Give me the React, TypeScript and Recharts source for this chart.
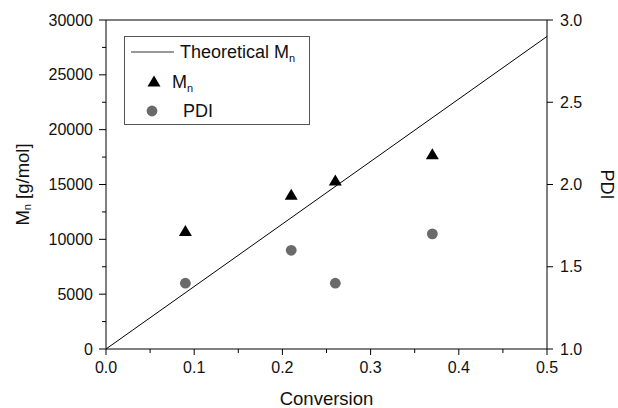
import React from "react";
import {
  ComposedChart,
  Line,
  Scatter,
  XAxis,
  YAxis,
  ReferenceLine,
} from "recharts";

// measured points
const conversion = [0.09, 0.21, 0.26, 0.37];
const mnValues = [10700, 14000, 15300, 17700];
const pdiValues = [1.4, 1.6, 1.4, 1.7];

// theoretical Mn line
const theoryConversion = [0, 0.5];
const theoryMn = [0, 28500];

const xTicks = [0, 0.05, 0.1, 0.15, 0.2, 0.25, 0.3, 0.35, 0.4, 0.45, 0.5];
const mnTicks = [
  0, 2500, 5000, 7500, 10000, 12500, 15000, 17500, 20000, 22500, 25000,
  27500, 30000,
];
const pdiTicks = [1.0, 1.5, 2.0, 2.5, 3.0];

const mnData = conversion.map((x, i) => ({ x, mn: mnValues[i] }));
const pdiData = conversion.map((x, i) => ({ x, pdi: pdiValues[i] }));
const theoryData = theoryConversion.map((x, i) => ({ x, theory: theoryMn[i] }));

const FONT = '"Liberation Sans", Arial, sans-serif';
const INK = "#000";
const GREY_DOT = "#6a6a6a";
const TICK_SIZE = 7;
const TICK_MARGIN = 6;

function Triangle({ cx, cy }: any) {
  if (cx == null || cy == null) return null;
  const h = 11;
  const w = 13;
  return (
    <polygon
      points={`${cx},${cy - h * 0.6} ${cx + w / 2},${cy + h * 0.4} ${cx - w / 2},${cy + h * 0.4}`}
      fill={INK}
    />
  );
}

function Dot({ cx, cy }: any) {
  if (cx == null || cy == null) return null;
  return <circle cx={cx} cy={cy} r={5.4} fill={GREY_DOT} />;
}

function LeftTick({ x, y, payload }: any) {
  const major = payload.value % 5000 === 0;
  const ax = x + TICK_SIZE + TICK_MARGIN;
  return (
    <g>
      <line x1={ax - (major ? 7 : 4)} x2={ax} y1={y} y2={y} stroke={INK} />
      {major && (
        <text x={x} y={y} dy={5.5} textAnchor="end" fontSize={16} fontFamily={FONT} fill="#111">
          {payload.value}
        </text>
      )}
    </g>
  );
}

function RightTick({ x, y, payload }: any) {
  const ax = x - TICK_SIZE - TICK_MARGIN;
  return (
    <g>
      <line x1={ax} x2={ax + 6} y1={y} y2={y} stroke={INK} />
      <text x={x} y={y} dy={5.5} textAnchor="start" fontSize={16} fontFamily={FONT} fill="#111">
        {payload.value.toFixed(1)}
      </text>
    </g>
  );
}

function BottomTick({ x, y, payload }: any) {
  const major = Math.round(payload.value * 100) % 10 === 0;
  const ay = y - TICK_SIZE - TICK_MARGIN;
  return (
    <g>
      <line x1={x} x2={x} y1={ay} y2={ay + (major ? 6 : 4)} stroke={INK} />
      {major && (
        <text x={x} y={y} dy="0.71em" textAnchor="middle" fontSize={16} fontFamily={FONT} fill="#111">
          {payload.value.toFixed(1)}
        </text>
      )}
    </g>
  );
}

function LeftLabel({ viewBox }: any) {
  const cx = viewBox.x + 22;
  const cy = viewBox.y + viewBox.height / 2;
  return (
    <text
      x={cx}
      y={cy}
      transform={`rotate(-90 ${cx} ${cy})`}
      textAnchor="middle"
      dominantBaseline="central"
      fontSize={18.5}
      fontFamily={FONT}
      fill="#111"
    >
      M<tspan fontSize={11} dy={5}>n</tspan>
      <tspan dy={-5}> [g/mol]</tspan>
    </text>
  );
}

function RightLabel({ viewBox }: any) {
  const cx = viewBox.x + 60;
  const cy = viewBox.y + viewBox.height / 2;
  return (
    <text
      x={cx}
      y={cy}
      transform={`rotate(90 ${cx} ${cy})`}
      textAnchor="middle"
      dominantBaseline="central"
      fontSize={18}
      fontFamily={FONT}
      fill="#111"
    >
      PDI
    </text>
  );
}

function BottomLabel({ viewBox }: any) {
  return (
    <text
      x={viewBox.x + viewBox.width / 2}
      y={viewBox.y + 49}
      textAnchor="middle"
      dominantBaseline="central"
      fontSize={18.5}
      fontFamily={FONT}
      fill="#111"
    >
      Conversion
    </text>
  );
}

function LegendBox() {
  return (
    <svg width={186} height={89} style={{ display: "block" }}>
      <rect x={0.5} y={0.5} width={185} height={88} fill="#fff" stroke="#555" />
      <line x1={7} x2={50} y1={16} y2={16} stroke="#333" />
      <text x={56} y={16} dominantBaseline="central" fontSize={18} fontFamily={FONT} fill="#111">
        Theoretical M<tspan fontSize={11} dy={6}>n</tspan>
      </text>
      <Triangle cx={30} cy={46} />
      <text x={48} y={46} dominantBaseline="central" fontSize={18} fontFamily={FONT} fill="#111">
        M<tspan fontSize={11} dy={6}>n</tspan>
      </text>
      <Dot cx={28} cy={75} />
      <text x={59} y={75} dominantBaseline="central" fontSize={18} fontFamily={FONT} fill="#111">
        PDI
      </text>
    </svg>
  );
}

export default function App() {
  return (
    <div style={{ position: "absolute", left: 0, top: 0, width: 618, height: 408, background: "#fff" }}>
      <ComposedChart
        width={618}
        height={408}
        margin={{ top: 20, right: 0, bottom: 0, left: 0 }}
      >
        <XAxis
          dataKey="x"
          type="number"
          domain={[0, 0.5]}
          ticks={xTicks}
          interval={0}
          height={59}
          axisLine={{ stroke: INK }}
          tickLine={false}
          tickSize={TICK_SIZE}
          tickMargin={TICK_MARGIN}
          tick={<BottomTick />}
          label={{ content: <BottomLabel /> }}
        />
        <YAxis
          yAxisId="left"
          type="number"
          domain={[0, 30000]}
          ticks={mnTicks}
          interval={0}
          width={106}
          axisLine={{ stroke: INK }}
          tickLine={false}
          tickSize={TICK_SIZE}
          tickMargin={TICK_MARGIN}
          tick={<LeftTick />}
          label={{ content: <LeftLabel /> }}
        />
        <YAxis
          yAxisId="right"
          orientation="right"
          type="number"
          domain={[1, 3]}
          ticks={pdiTicks}
          interval={0}
          width={71}
          axisLine={{ stroke: INK }}
          tickLine={false}
          tickSize={TICK_SIZE}
          tickMargin={TICK_MARGIN}
          tick={<RightTick />}
          label={{ content: <RightLabel /> }}
        />
        <ReferenceLine yAxisId="left" y={30000} stroke={INK} />
        <Line
          yAxisId="left"
          data={theoryData}
          dataKey="theory"
          stroke={INK}
          strokeWidth={1}
          dot={false}
          activeDot={false}
          isAnimationActive={false}
        />
        <Scatter
          yAxisId="left"
          data={mnData}
          dataKey="mn"
          shape={<Triangle />}
          isAnimationActive={false}
        />
        <Scatter
          yAxisId="right"
          data={pdiData}
          dataKey="pdi"
          shape={<Dot />}
          isAnimationActive={false}
        />
      </ComposedChart>
      <div style={{ position: "absolute", left: 124, top: 36 }}>
        <LegendBox />
      </div>
    </div>
  );
}
